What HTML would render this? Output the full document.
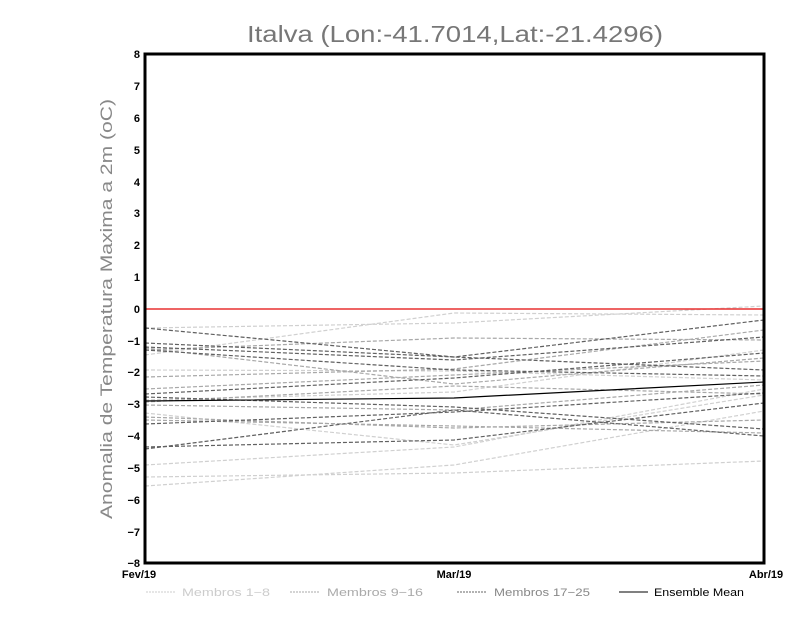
<!DOCTYPE html>
<html><head><style>body{margin:0;background:#fff}svg{display:block}</style></head><body>
<svg width="800" height="618" xmlns="http://www.w3.org/2000/svg" font-family="Liberation Sans, sans-serif">
<rect width="800" height="618" fill="#fff"/>
<text x="247" y="42" textLength="416" lengthAdjust="spacingAndGlyphs" font-size="23" fill="#777" font-weight="300">Italva (Lon:-41.7014,Lat:-21.4296)</text>
<text transform="translate(112,309) rotate(-90)" x="-210" y="0" textLength="420" lengthAdjust="spacingAndGlyphs" font-size="17" fill="#888">Anomalia de Temperatura Maxima a 2m (oC)</text>
<g font-size="11" font-weight="bold" text-anchor="end" fill="#000">
<text x="140" y="58">8</text><text x="140" y="90">7</text><text x="140" y="122">6</text><text x="140" y="154">5</text><text x="140" y="186">4</text><text x="140" y="217">3</text><text x="140" y="249">2</text><text x="140" y="281">1</text><text x="140" y="313">0</text><text x="140" y="345">−1</text><text x="140" y="376">−2</text><text x="140" y="408">−3</text><text x="140" y="440">−4</text><text x="140" y="472">−5</text><text x="140" y="504">−6</text><text x="140" y="536">−7</text><text x="140" y="567">−8</text>
</g>
<g font-size="11" font-weight="bold" text-anchor="middle">
<text x="139" y="578">Fev/19</text><text x="454" y="578">Mar/19</text><text x="766" y="578">Abr/19</text>
</g>
<g fill="none" stroke-dasharray="4,2" stroke-width="1.2">
<g stroke="#d0d0d0">
<polyline points="145,328 454,323 764,306"/>
<polyline points="145,355 454,313 764,315"/>
<polyline points="145,465 454,447 764,389"/>
<polyline points="145,477 454,473 764,461"/>
<polyline points="145,486 454,465 764,411"/>
<polyline points="145,413 454,445 764,395"/>
<polyline points="145,370 454,371 764,380"/>
<polyline points="145,400 454,392 764,350"/>
</g>
<g stroke="#a8a8a8">
<polyline points="145,377 454,369 764,330"/>
<polyline points="145,350 454,338 764,340"/>
<polyline points="145,389 454,375 764,361"/>
<polyline points="145,405 454,410 764,385"/>
<polyline points="145,417 454,428 764,420"/>
<polyline points="145,348 454,384 764,358"/>
<polyline points="145,420 454,426 764,433"/>
<polyline points="145,402 454,386 764,394"/>
</g>
<g stroke="#606060">
<polyline points="145,328 454,357 764,370"/>
<polyline points="145,343 454,357 764,320"/>
<polyline points="145,347 454,360 764,337"/>
<polyline points="145,350 454,370 764,376"/>
<polyline points="145,394 454,378 764,353"/>
<polyline points="145,424 454,412 764,393"/>
<polyline points="145,449 454,410 764,436"/>
<polyline points="145,447 454,440 764,403"/>
<polyline points="145,397 454,407 764,429"/>
</g>
</g>
<line x1="145" y1="309" x2="764" y2="309" stroke="#e83030" stroke-width="1.5"/>
<polyline points="145,401 454,398 764,382" fill="none" stroke="#000" stroke-width="1.2"/>
<rect x="145" y="54" width="619" height="509" fill="none" stroke="#000" stroke-width="3"/>
<g font-size="11">
<line x1="146" y1="592" x2="176" y2="592" stroke="#ccc" stroke-dasharray="2,1"/><text x="182" y="596" textLength="88" lengthAdjust="spacingAndGlyphs" fill="#ccc">Membros 1−8</text>
<line x1="290" y1="592" x2="320" y2="592" stroke="#aaa" stroke-dasharray="2,1"/><text x="327" y="596" textLength="96" lengthAdjust="spacingAndGlyphs" fill="#aaa">Membros 9−16</text>
<line x1="457" y1="592" x2="487" y2="592" stroke="#666" stroke-dasharray="2,1"/><text x="494" y="596" textLength="96" lengthAdjust="spacingAndGlyphs" fill="#888">Membros 17−25</text>
<line x1="619" y1="592" x2="648" y2="592" stroke="#000"/><text x="654" y="596" textLength="90" lengthAdjust="spacingAndGlyphs" fill="#000">Ensemble Mean</text>
</g>
</svg>
</body></html>
